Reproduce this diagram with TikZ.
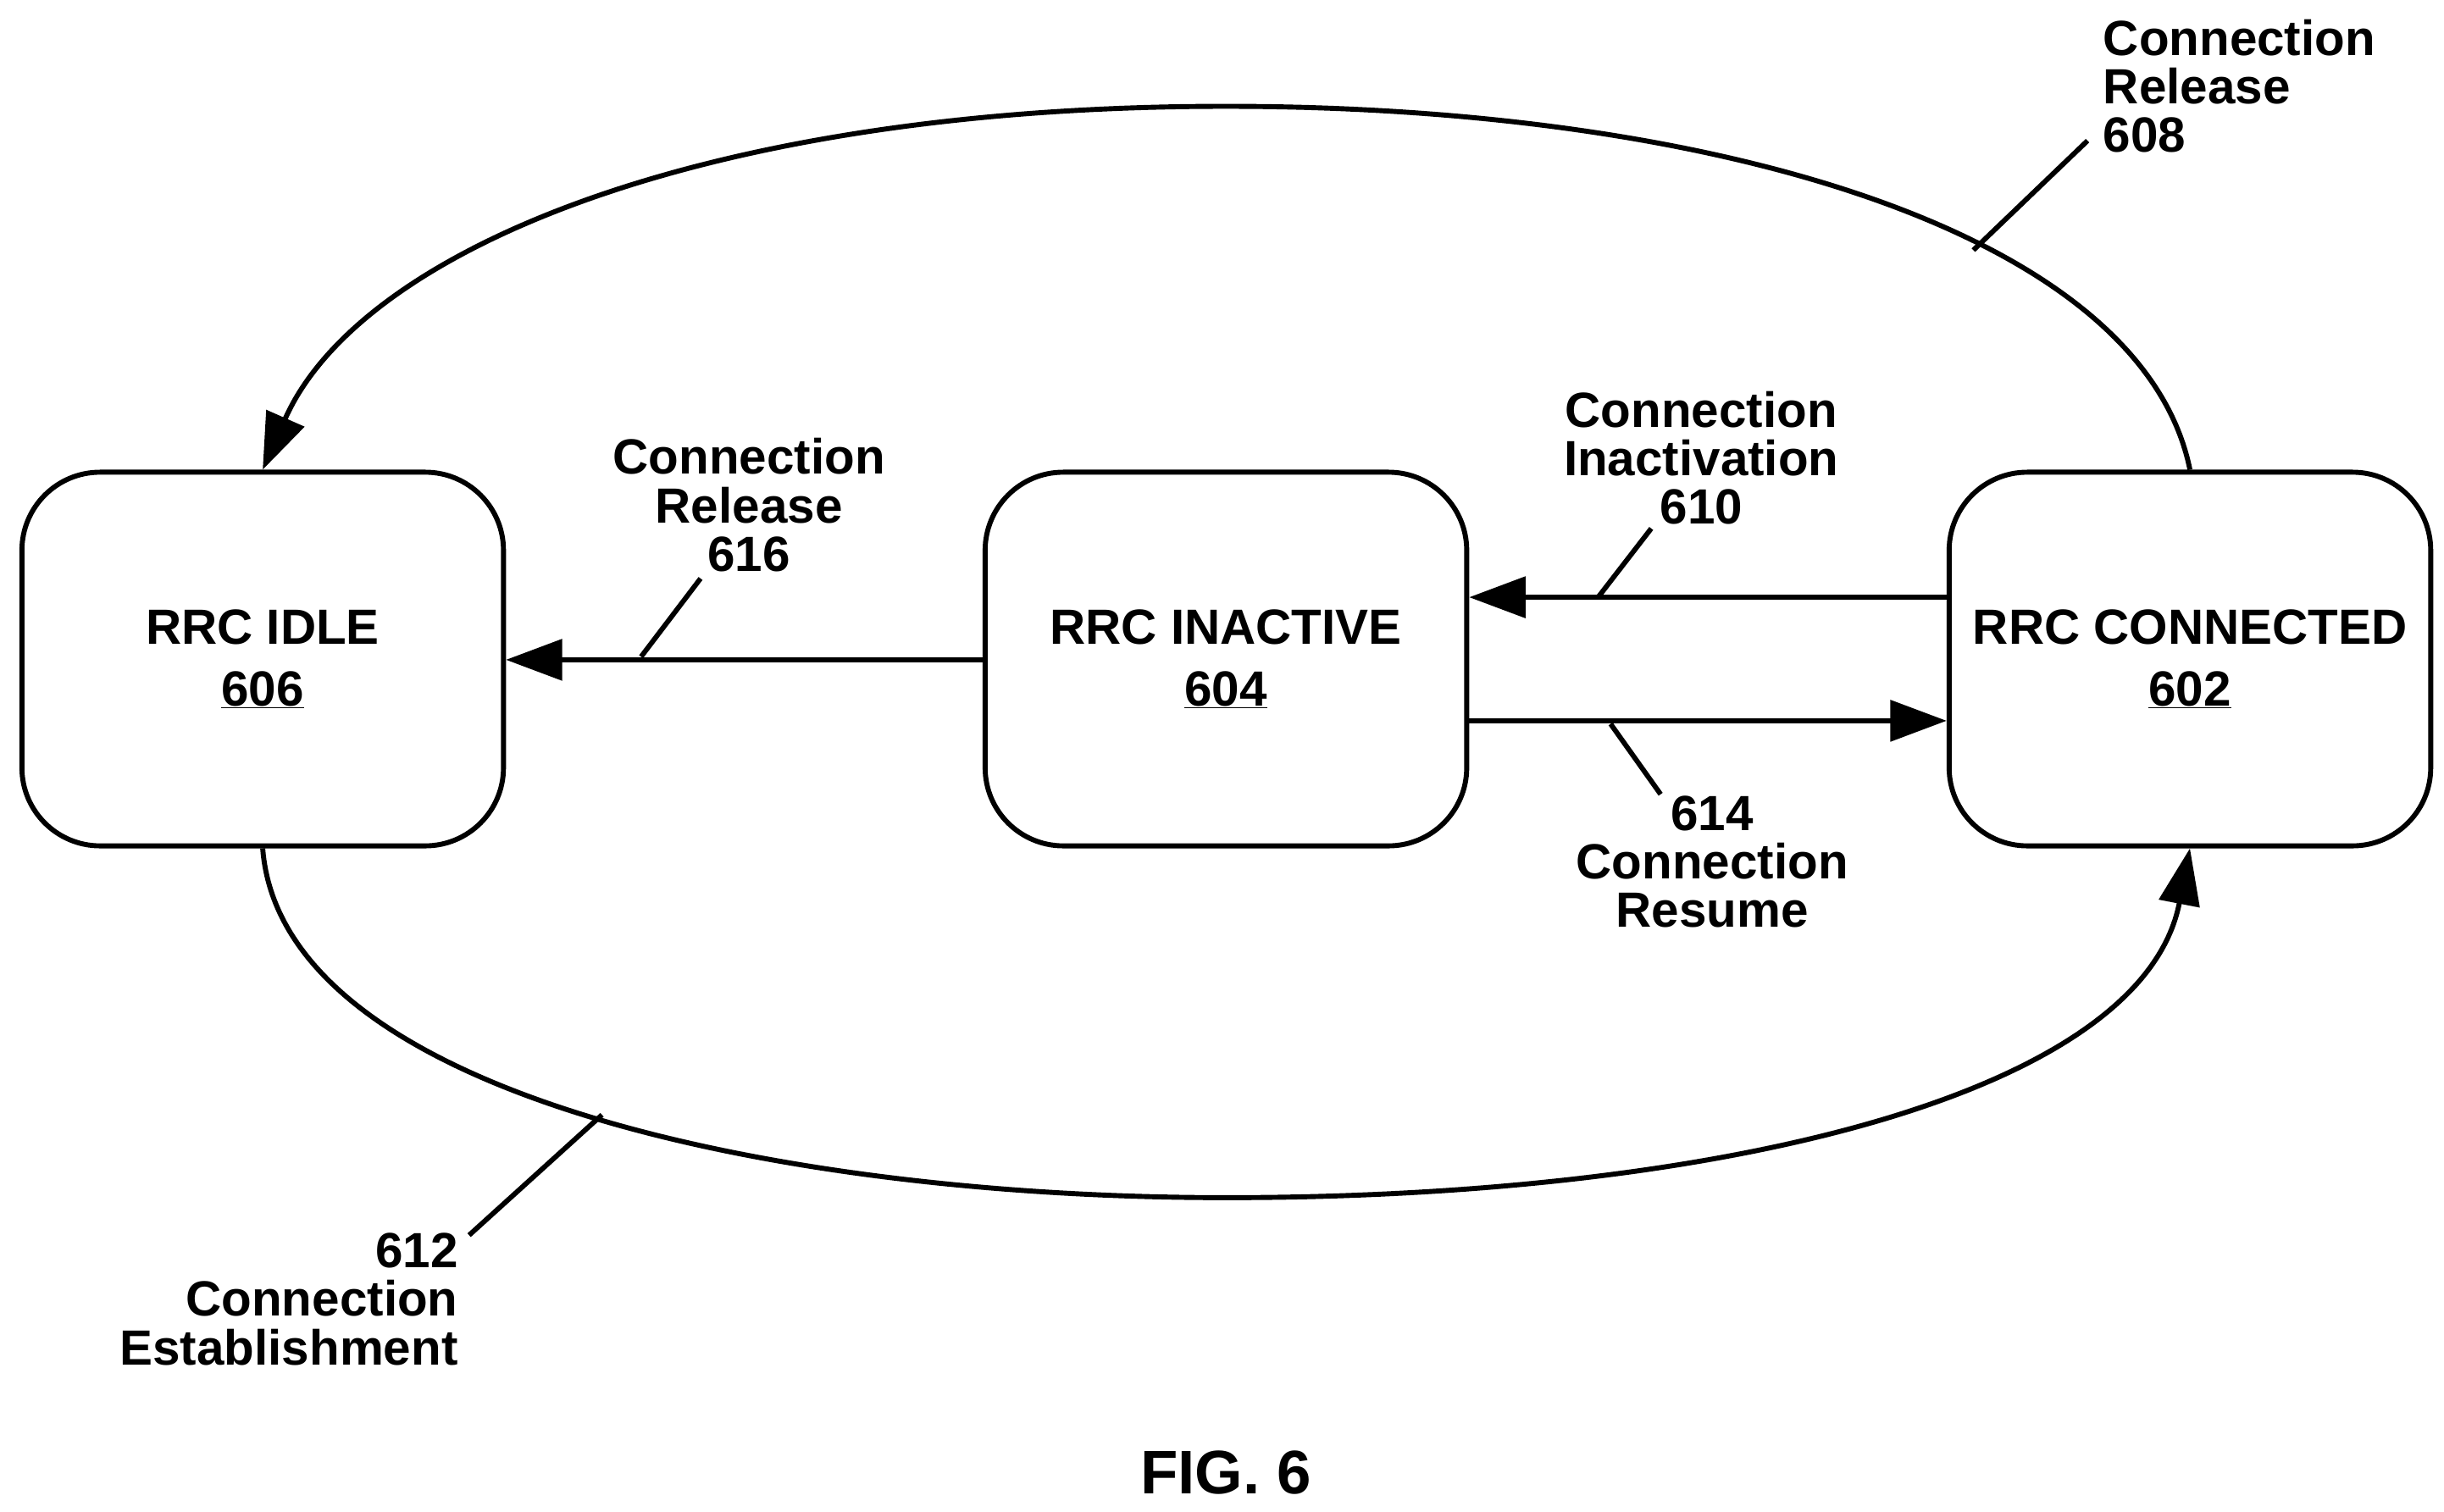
\documentclass[tikz,border=0pt]{standalone}
\usepackage{fontspec}
\setmainfont{Liberation Sans}
\usetikzlibrary{arrows.meta}
\begin{document}
\begin{tikzpicture}[x=0.05cm,y=-0.05cm,
  st/.style={draw,line width=0.16cm,rounded corners=2.5cm,minimum width=15.4cm,minimum height=11.95cm,align=center,font=\fontsize{45}{56}\selectfont\bfseries},
  ln/.style={line width=0.16cm},
  ar/.style={ln,-{Triangle[length=1.8cm,width=1.3cm]}},
  lb/.style={font=\fontsize{45}{44}\selectfont\bfseries,align=center,inner sep=0}]
\useasboundingbox (0,0) rectangle (1563,967);
\node[st] (idle) at (168,421.5) {RRC IDLE\\\underline{606}};
\node[st] (inact) at (784,421.5) {RRC INACTIVE\\\underline{604}};
\node[st] (conn) at (1400.5,421.5) {RRC CONNECTED\\\underline{602}};
\draw[ar] (inact.west|-0,422) -- (idle.east|-0,422);
\draw[ar] (conn.west|-0,382) -- (inact.east|-0,382);
\draw[ar] (inact.east|-0,461) -- (conn.west|-0,461);
\draw[ar] (conn.north) .. controls (1370,150) and (1100,68) .. (784,68) coordinate (t) .. controls (450,68) and (230,160) .. (idle.north);
\draw[ar] (idle.south) .. controls (180,700) and (500,766) .. (784,766) coordinate (b) .. controls (1100,766) and (1370,700) .. (conn.south);
\node[lb] (l616) at (479,323) {Connection\\Release\\616};
\node[lb] (l610) at (1088,293) {Connection\\Inactivation\\610};
\node[lb] (l614) at (1095,551) {614\\Connection\\Resume};
\node[lb,align=left,anchor=west] (l608) at (1345,55) {Connection\\Release\\608};
\node[lb,align=right,anchor=east] (l612) at (293,831) {612\\Connection\\Establishment};
\node[lb,font=\fontsize{56}{60}\selectfont\bfseries] (fig) at (784,942) {FIG. 6};
\coordinate (p1) at (410,420); \coordinate (q1) at (448,370);
\draw[ln] (p1) -- (q1);
\coordinate (p2) at (1022,382); \coordinate (q2) at (1056,338);
\draw[ln] (p2) -- (q2);
\coordinate (p3) at (1030,463); \coordinate (q3) at (1062,508);
\draw[ln] (p3) -- (q3);
\coordinate (p4) at (1262,160); \coordinate (q4) at (1335,90);
\draw[ln] (p4) -- (q4);
\coordinate (p5) at (385,713); \coordinate (q5) at (300,790);
\draw[ln] (p5) -- (q5);
\end{tikzpicture}
\end{document}
